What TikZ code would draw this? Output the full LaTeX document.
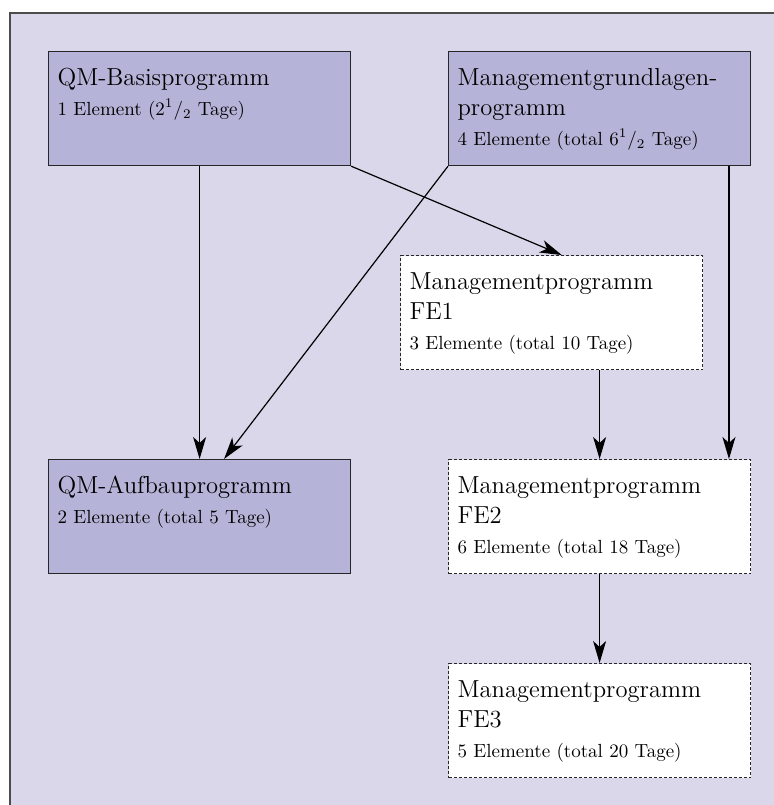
\documentclass[tikz,border=0pt]{standalone}
\usepackage{xcolor}
\usepackage{tikz}
\usetikzlibrary{arrows.meta}

\definecolor{framebg}{HTML}{DAD7EA}
\definecolor{boxfill}{HTML}{B5B3D7}

\newcommand{\half}{\textsuperscript{1}/\textsubscript{2}}
\newcommand{\boxtext}[2]{\parbox[t][57pt][t]{142pt}{\raggedright
  \fontsize{12.3}{15}\selectfont\rule{0pt}{17pt}#1\par
  \fontsize{9.5}{15}\selectfont #2\par}}

\tikzset{
  progbox/.style={rectangle, anchor=north west, inner xsep=4.5pt, inner ysep=0pt,
    minimum width=151pt, minimum height=57pt},
  basebox/.style={progbox, draw=black!85, fill=boxfill, line width=0.6pt},
  febox/.style={progbox, draw=black!85, fill=white, line width=0.6pt,
    dash pattern=on 1.5pt off 1pt},
  link/.style={-{Stealth[length=11pt,width=6.5pt,inset=3pt]}, line width=0.6pt}
}

\begin{document}
\begin{tikzpicture}[x=0.5pt,y=-0.5pt]
\useasboundingbox (0,0) rectangle (774,805);
\fill[white] (0,0) rectangle (774,805);
\fill[framebg] (10,13) rectangle (774,805);
\draw[line width=0.8pt, gray!60!black] (10,805) -- (10,13) -- (774,13);

\node[basebox] (basis) at (48,51) {\boxtext{QM-Basisprogramm}{1 Element (2\half\ Tage)}};
\node[basebox] (grund) at (448,51) {\boxtext{Managementgrundlagen-\\programm}{4 Elemente (total 6\half\ Tage)}};
\node[febox] (fe1) at (400,255) {\boxtext{Managementprogramm\\FE1}{3 Elemente (total 10 Tage)}};
\node[basebox] (aufbau) at (48,459) {\boxtext{QM-Aufbauprogramm}{2 Elemente (total 5 Tage)}};
\node[febox] (fe2) at (448,459) {\boxtext{Managementprogramm\\FE2}{6 Elemente (total 18 Tage)}};
\node[febox] (fe3) at (448,663) {\boxtext{Managementprogramm\\FE3}{5 Elemente (total 20 Tage)}};

\draw[link] (basis.south) -- (aufbau.north);
\draw[link] (basis.south east) -- (fe1.80);
\draw[link] (grund.south west) -- (aufbau.67);
\draw[link] (grund.-24) -- (grund.-24 |- fe2.north);
\draw[link] (fe1.south -| fe2.north) -- (fe2.north);
\draw[link] (fe2.south) -- (fe3.north);
\end{tikzpicture}
\end{document}
